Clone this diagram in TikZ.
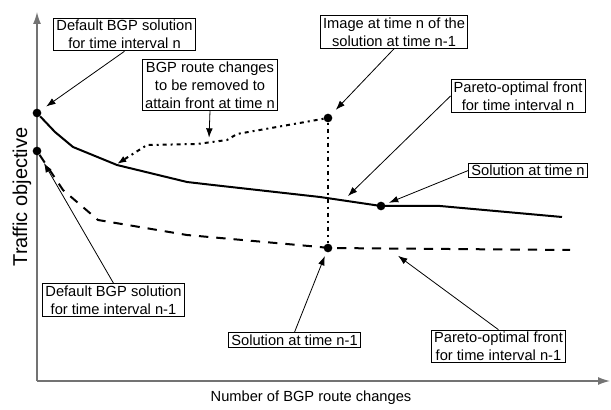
\documentclass[tikz,border=0pt]{standalone}
\usepackage{fontspec}
\setmainfont{Liberation Sans}
\usetikzlibrary{arrows.meta}

\begin{document}
\begin{tikzpicture}[x=0.75pt,y=0.75pt,yscale=-1,xscale=1,
  lbl/.style={draw, fill=white, line width=0.6pt, align=center, inner xsep=2pt, inner ysep=1.5pt, font=\fontsize{11}{13.5}\selectfont},
  dot/.style={circle, fill=black, inner sep=0pt, minimum size=6.5pt},
  ptr/.style={line width=0.6pt, -{Latex[length=7pt,width=5pt]}, shorten >=1pt},
  axis/.style={draw=black!55, line width=1pt, -{Latex[length=9pt,width=6pt]}, shorten >=0pt},
  front/.style={line width=1.5pt, line join=round}]
\path (0,0) rectangle (611,409);

% Axes
\coordinate (orig) at (37,381);
\coordinate (ytop) at (37,12);
\coordinate (xend) at (610,381);
\draw[axis] (orig) -- (ytop);
\draw[axis] (orig) -- (xend);
\node[rotate=90, font=\fontsize{15}{18}\selectfont] (ylab) at (22,197) {Traffic objective};
\node[font=\fontsize{11}{13.5}\selectfont] (xlab) at (311,398) {Number of BGP route changes};

% Points
\node[dot] (dn) at (37,113) {};
\node[dot] (dp) at (37,151) {};
\node[dot] (im) at (328,118) {};
\node[dot] (sn) at (381,206) {};
\node[dot] (sp) at (328,248) {};

% Front at time n
\draw[front] (dn) -- (55,132) -- (73,147) -- (117,165) -- (187,182) -- (213,185) -- (320,197) -- (sn.center) -- (440,206) -- (562,217);
% Front at time n-1
\draw[front, dash pattern=on 7pt off 6pt] (dp) -- (63,190) -- (98,220) -- (187,235) -- (320,247) -- (sp.center) -- (570,250);
% Removed route changes
\draw[line width=1.5pt, dash pattern=on 1.5pt off 3pt on 3pt off 3pt, -{Latex[length=7pt,width=5pt]}] (im) -- (237,134) -- (227,140) -- (197,144) -- (147,145) -- (117,164);
\draw[line width=1.5pt, dash pattern=on 1.5pt off 3pt on 3pt off 3pt] (im) -- (sp);

% Text Node
\node[lbl] (defn) at (124.5,34.5) {Default BGP solution\\for time interval n};
% Text Node
\node[lbl] (chg) at (210,85) {BGP route changes\\to be removed to\\attain front at time n};
% Text Node
\node[lbl] (img) at (394,32) {Image at time n of the\\solution at time n-1};
% Text Node
\node[lbl] (parn) at (518,96) {Pareto-optimal front\\for time interval n};
% Text Node
\node[lbl] (soln) at (528,170.5) {Solution at time n};
% Text Node
\node[lbl] (defp) at (113.5,300) {Default BGP solution\\for time interval n-1};
% Text Node
\node[lbl] (solp) at (294.5,340) {Solution at time n-1};
% Text Node
\node[lbl] (parp) at (498.5,346.5) {Pareto-optimal front\\for time interval n-1};

% Pointers
\coordinate (ctip) at (209,139);
\coordinate (pntip) at (347,197);
\coordinate (pptip) at (397,255);
\draw[ptr, shorten >=5pt] (defn.south) -- (dn);
\draw[ptr] (chg.south) -- (ctip);
\draw[ptr, shorten >=5pt] (img.south) -- (im);
\draw[ptr] (parn.west) -- (pntip);
\draw[ptr, shorten >=3pt] (soln.west) -- (sn);
\draw[ptr, shorten >=7pt] (defp.north) -- (dp);
\draw[ptr, shorten >=3pt] (solp.north) -- (sp);
\draw[ptr] (parp.north) -- (pptip);

\end{tikzpicture}
\end{document}
